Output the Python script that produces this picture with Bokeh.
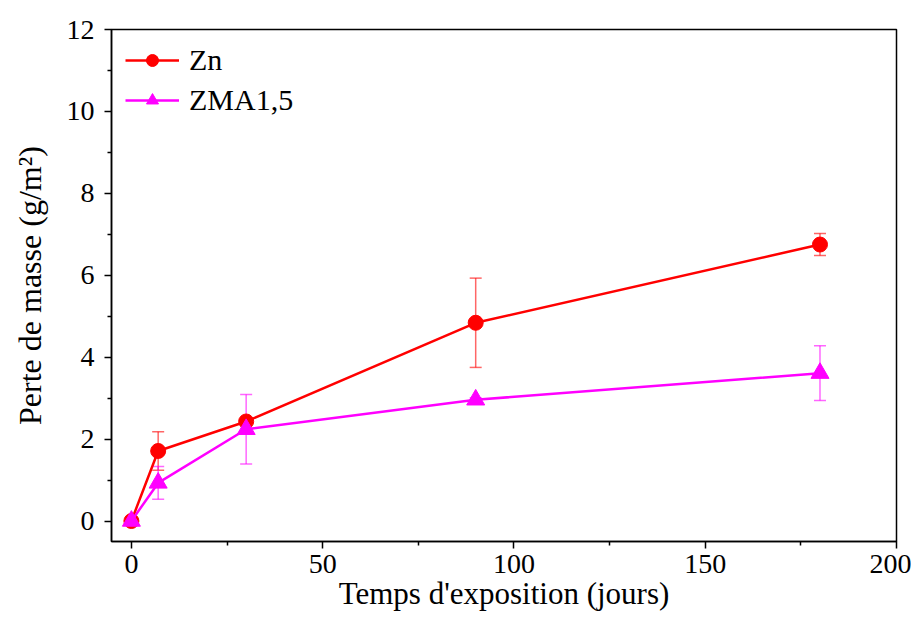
from bokeh.plotting import figure
from bokeh.models import Whisker, ColumnDataSource, Legend, LegendItem, FixedTicker, Range1d
from bokeh.embed import file_html
from bokeh.resources import INLINE

days = [0, 7, 30, 90, 180]
zn = [0.0, 1.71, 2.43, 4.84, 6.75]
zn_err = [0.0, 0.47, 0.05, 1.09, 0.27]
zma = [0.0, 0.93, 2.24, 2.96, 3.61]
zma_err = [0.0, 0.40, 0.85, 0.05, 0.67]

x_ticks = [0, 50, 100, 150, 200]
y_ticks = [0, 2, 4, 6, 8, 10, 12]

FONT = "Liberation Serif"

p = figure(width=911, height=623, output_backend="svg", toolbar_location=None,
           x_range=Range1d(-5.2, 200), y_range=Range1d(-0.5, 12),
           min_border_left=111, min_border_right=15, min_border_top=29, min_border_bottom=82)
p.grid.visible = False
p.outline_line_color = "black"
p.outline_line_width = 1.5
p.background_fill_color = "white"

src_zn = ColumnDataSource(dict(x=days, y=zn,
                               lo=[a - b for a, b in zip(zn, zn_err)],
                               hi=[a + b for a, b in zip(zn, zn_err)]))
src_zma = ColumnDataSource(dict(x=days, y=zma,
                                lo=[a - b for a, b in zip(zma, zma_err)],
                                hi=[a + b for a, b in zip(zma, zma_err)]))

for src, col in [(src_zn, "#ff0000"), (src_zma, "#ff00ff")]:
    w = Whisker(source=src, base="x", upper="hi", lower="lo", line_color=col,
                line_alpha=0.6, line_width=1.5)
    for h in (w.upper_head, w.lower_head):
        h.line_color = col
        h.line_alpha = 0.6
        h.size = 12
        h.line_width = 1.5
    p.add_layout(w)

l1 = p.line("x", "y", source=src_zn, line_color="#ff0000", line_width=2.5)
m1 = p.scatter("x", "y", source=src_zn, marker="circle", size=15, fill_color="#ff0000", line_color="#ff0000")
l2 = p.line("x", "y", source=src_zma, line_color="#ff00ff", line_width=2.5)
m2 = p.scatter("x", "y", source=src_zma, marker="triangle", size=18, fill_color="#ff00ff", line_color="#ff00ff")

legend = Legend(items=[LegendItem(label="Zn", renderers=[l1, m1]),
                       LegendItem(label="ZMA1,5", renderers=[l2, m2])],
                location="top_left", border_line_color=None, background_fill_alpha=0,
                label_text_font=FONT, label_text_font_size="30px", label_text_color="black",
                glyph_width=54, glyph_height=30, label_standoff=10, spacing=6,
                margin=14, padding=6, label_height=30)
p.add_layout(legend)

for ax in [p.xaxis[0], p.yaxis[0]]:
    ax.axis_line_width = 1.5
    ax.axis_line_color = "black"
    ax.major_tick_line_width = 1.5
    ax.minor_tick_line_width = 1.5
    ax.major_tick_out = 7
    ax.major_tick_in = 0
    ax.minor_tick_out = 4
    ax.minor_tick_in = 0
    ax.major_label_text_color = "black"
    ax.major_label_text_font = FONT
    ax.major_label_text_font_size = "28px"
    ax.axis_label_text_font = FONT
    ax.axis_label_text_font_style = "normal"
    ax.axis_label_text_color = "black"

p.xaxis[0].axis_label_text_font_size = "31px"
p.yaxis[0].axis_label_text_font_size = "32px"

p.xaxis[0].ticker = FixedTicker(ticks=x_ticks, minor_ticks=[25, 75, 125, 175])
p.yaxis[0].ticker = FixedTicker(ticks=y_ticks, minor_ticks=[1, 3, 5, 7, 9, 11])
p.xaxis[0].axis_label = "Temps d'exposition (jours)"
p.yaxis[0].axis_label = "Perte de masse (g/m²)"
p.xaxis[0].major_label_standoff = 6
p.yaxis[0].major_label_standoff = 10
p.xaxis[0].axis_label_standoff = 0
p.yaxis[0].axis_label_standoff = 16

open("out.html", "w").write(file_html(p, INLINE))
